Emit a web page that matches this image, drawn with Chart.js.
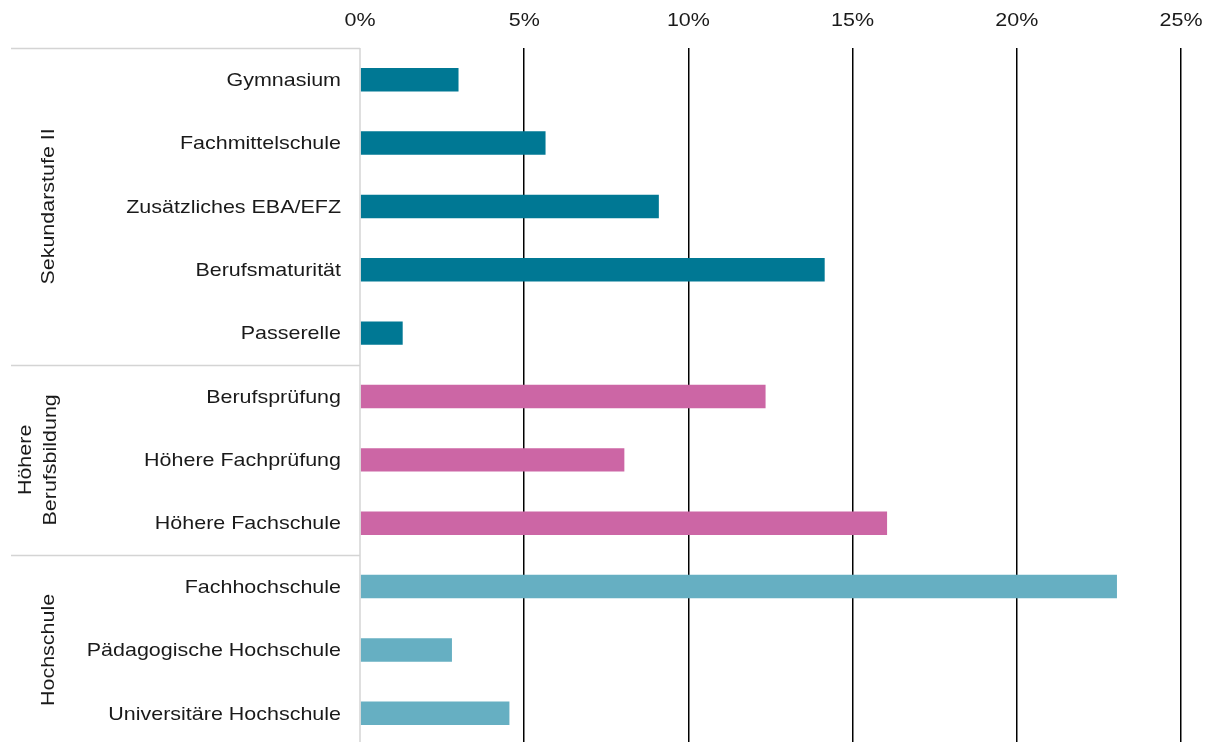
<!DOCTYPE html>
<html>
<head>
<meta charset="utf-8">
<script src="https://cdn.jsdelivr.net/npm/chart.js@4"></script>
<style>
  html, body { margin: 0; padding: 0; background: #fff; overflow: hidden; }
  canvas { display: block; }
</style>
</head>
<body>
<canvas id="myChart" width="1212" height="745"></canvas>
<script>
// Abschlüsse (Anteil in %)
const labels = [
    'Gymnasium', 'Fachmittelschule', 'Zusätzliches EBA/EFZ', 'Berufsmaturität', 'Passerelle',
    'Berufsprüfung', 'Höhere Fachprüfung', 'Höhere Fachschule',
    'Fachhochschule', 'Pädagogische Hochschule', 'Universitäre Hochschule'
];
const values = [3.0, 5.65, 9.1, 14.15, 1.3, 12.35, 8.05, 16.05, 23.05, 2.8, 4.55];

// Gruppen links (Zeilen pro Gruppe)
const groupNames = [['Sekundarstufe II'], ['Höhere', 'Berufsbildung'], ['Hochschule']];
const groupSizes = [5, 3, 3];
const groupColors = ['#007894', '#cc66a5', '#66afc2'];

const xTicks = [0, 5, 10, 15, 20, 25];

const FONT = '19px "Liberation Sans", Arial, sans-serif';
const TEXT = '#1a1a1a';
const STRETCH = 1.13; // Schrift im Original etwas breiter

let barColors = [];
groupSizes.forEach((n, g) => {
    for (let i = 0; i < n; i++) barColors.push(groupColors[g]);
});

function drawText(ctx, txt, x, y, align, rot) {
    ctx.save();
    ctx.translate(x, y);
    if (rot) ctx.rotate(rot);
    ctx.scale(STRETCH, 1);
    ctx.font = FONT;
    ctx.fillStyle = TEXT;
    ctx.textAlign = align;
    ctx.textBaseline = 'middle';
    ctx.fillText(txt, 0, 0);
    ctx.restore();
}

const groupPlugin = {
    id: 'groups',
    afterDraw(chart) {
        const ctx = chart.ctx;
        const x = chart.scales.x;
        const y = chart.scales.y;
        const area = chart.chartArea;

        // Achsenbeschriftungen
        x.ticks.forEach(t => drawText(ctx, t.value + '%', x.getPixelForValue(t.value), 21, 'center'));
        labels.forEach((l, i) => drawText(ctx, l, area.left - 19, y.getPixelForValue(i) + 1, 'right'));

        ctx.save();
        ctx.strokeStyle = '#d4d4d4';
        ctx.lineWidth = 1.5;

        // obere Linie
        ctx.beginPath();
        ctx.moveTo(11, area.top + 0.5);
        ctx.lineTo(area.left, area.top + 0.5);
        ctx.stroke();

        let start = 0;
        groupSizes.forEach((n, g) => {
            const end = start + n - 1;
            const top = start === 0 ? area.top : (y.getPixelForValue(start - 1) + y.getPixelForValue(start)) / 2;
            const bottom = end === labels.length - 1 ? area.bottom : (y.getPixelForValue(end) + y.getPixelForValue(end + 1)) / 2;
            if (end < labels.length - 1) {
                ctx.beginPath();
                ctx.moveTo(11, Math.round(bottom) + 0.5);
                ctx.lineTo(area.left, Math.round(bottom) + 0.5);
                ctx.stroke();
            }
            // Gruppentitel, gedreht
            const lines = groupNames[g];
            const lh = 25;
            lines.forEach((t, i) => {
                const off = (i - (lines.length - 1) / 2) * lh;
                const cx = lines.length > 1 ? 38 + off : 49;
                drawText(ctx, t, cx, (top + bottom) / 2, 'center', -Math.PI / 2);
            });
            start += n;
        });

        // Achsenlinie links
        ctx.beginPath();
        ctx.moveTo(area.left, area.top);
        ctx.lineTo(area.left, area.bottom);
        ctx.stroke();
        ctx.restore();
    }
};

const ctx = document.getElementById('myChart');

new Chart(ctx, {
    type: 'bar',
    data: {
        labels: labels,
        datasets: [{
            label: 'Anteil',
            data: values,
            backgroundColor: barColors,
            borderWidth: 0,
            barPercentage: 0.37,
            categoryPercentage: 1
        }]
    },
    options: {
        indexAxis: 'y',
        responsive: false,
        animation: false,
        layout: { padding: { left: 0, right: 31, top: 0, bottom: 0 } },
        plugins: {
            legend: { display: false },
            tooltip: { enabled: false }
        },
        scales: {
            x: {
                position: 'top',
                min: 0,
                max: 25,
                afterBuildTicks: (scale) => { scale.ticks = xTicks.map(v => ({ value: v })); },
                afterFit: (scale) => { scale.height = 48; },
                ticks: { display: false },
                grid: {
                    drawTicks: false,
                    color: (c) => (c.tick && c.tick.value === 0) ? 'rgba(0,0,0,0)' : '#000',
                    lineWidth: 1.5
                },
                border: { display: false }
            },
            y: {
                afterFit: (scale) => { scale.width = 360; },
                ticks: { display: false },
                grid: { display: false, drawTicks: false },
                border: { display: false }
            }
        }
    },
    plugins: [groupPlugin]
});
</script>
</body>
</html>
